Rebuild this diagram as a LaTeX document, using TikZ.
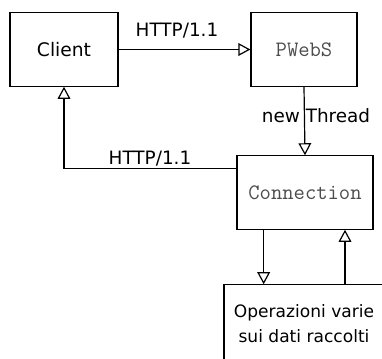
\documentclass[tikz,border=0pt]{standalone}
\usepackage{fontspec}
\setmainfont{DejaVu Sans}
\usetikzlibrary{arrows.meta,calc}
\tikzset{
  >={Triangle[open,length=9pt,width=9.5pt]},
  box/.style={draw,line width=0.9pt,minimum height=55pt,inner sep=2pt,
    font=\fontsize{14}{17}\selectfont},
  codebox/.style={box,font=\ttfamily\fontsize{16.5}{19}\selectfont,text=black!70},
  flow/.style={->,line width=0.9pt},
  flowlbl/.style={font=\fontsize{13.8}{16}\selectfont,inner sep=1pt},
}
\begin{document}
\begin{tikzpicture}[x=0.75pt,y=-0.75pt]
  \useasboundingbox (0,0) rectangle (382,358);
  \clip (0,0) rectangle (382,358);
  \node[box,minimum width=81pt] (client) at (64,49.5) {Client};
  \node[codebox,minimum width=79.5pt] (pwebs) at (304,49.5) {PWebS};
  \node[codebox,minimum width=102pt] (conn) at (305,192.5) {Connection};
  \node[box,minimum width=120pt,minimum height=58pt,align=center,
    font=\fontsize{12.8}{18.8}\selectfont] (ops) at (304,323.5)
    {Operazioni varie\\sui dati raccolti};
  % request and new thread
  \draw[flow] (client.east) -- (pwebs.west);
  \node[flowlbl] (req) at (177,31) {HTTP/1.1};
  \draw[flow] (pwebs.south) -- (conn.north);
  \node[flowlbl] (thr) at (316,116) {new Thread};
  % response back to client
  \draw[flow] ($(conn.north west)+(0,13)$) -| (client.south);
  \node[flowlbl] (resp) at (150,159) {HTTP/1.1};
  % work on the data
  \draw[flow] ([xshift=-31pt]conn.south) -- ([xshift=-31pt]conn.south |- ops.north);
  \draw[flow] ([xshift=30pt]conn.south |- ops.north) -- ([xshift=30pt]conn.south);
\end{tikzpicture}
\end{document}
